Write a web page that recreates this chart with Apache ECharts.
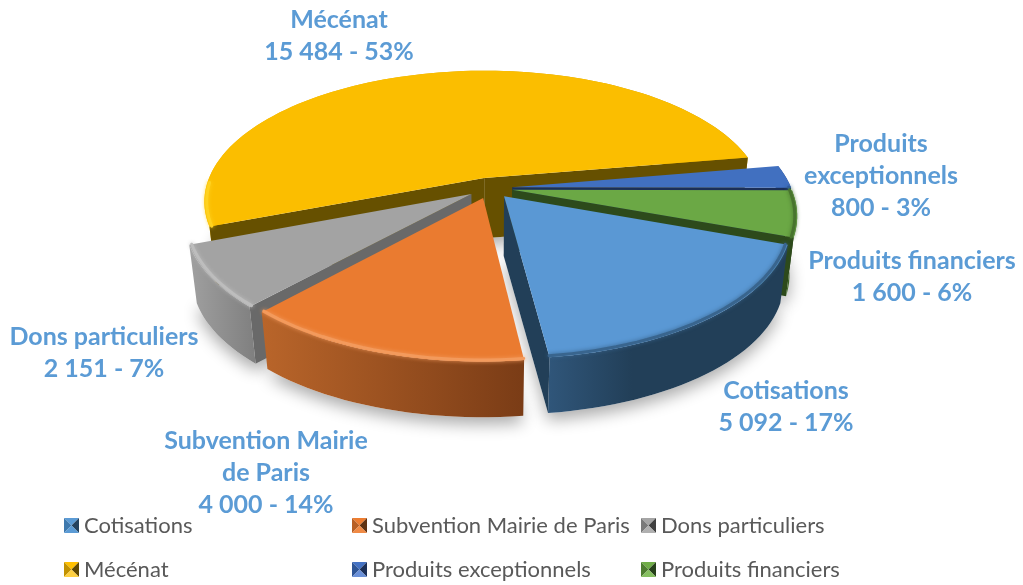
<!DOCTYPE html>
<html><head><meta charset="utf-8">
<style>html,body{margin:0;padding:0;background:#fff}#c{width:1023px;height:585px}</style>
<script src="https://cdn.jsdelivr.net/npm/echarts@6/dist/echarts.min.js"></script>
</head><body><div id="c"></div>
<script>
const categories = ['Cotisations','Subvention Mairie de Paris','Dons particuliers','Mécénat','Produits exceptionnels','Produits financiers'];
const values = [5092,4000,2151,15484,800,1600];
const percents = [17,14,7,53,3,6];
const labelNameLines = [['Cotisations'],['Subvention Mairie','de Paris'],['Dons particuliers'],['Mécénat'],['Produits','exceptionnels'],['Produits financiers']];

/* styling and layout of the fake-3D pie */
const topColors  = ['#5A98D4','#EA7B30','#A3A3A3','#FBBE00','#4170C0','#6BA845'];
const wallColors = ['#223F58','#AE5D26','#696969','#665000','#1B2F58','#2D4A1B'];
const outerFrom  = ['#30567A','#B9652A','#A0A0A0','#F5B800','#2F5496','#5B8F3B'];
const outerTo    = ['#223F58','#7A3C16','#7F7F7F','#C99A00','#1F3864','#2D4A1B'];
const outerStop  = [0.35,1,1,1,1,0.5];
const rimColors  = ['#39658E','#F39A5C','#BDBDBD','#FFD21F','#2F5AA6','#48742E'];
const swatch = [['#5B9BD5','#3E79AE','#25435F','#5B9BD5'],['#ED7D31','#B85F24','#5F3212','#F08A45'],
                ['#A5A5A5','#7A7A7A','#3F3F3F','#B0B0B0'],['#FFC000','#C29200','#5F4800','#FFD040'],
                ['#4472C4','#2E5596','#1B2F58','#6A90D8'],['#70AD47','#4E7D30','#26401A','#86C060']];
const paintRank = [5,4,3,0,1,2];
const labelCenters = [[786,407],[266,473],[104,353],[339,36],[881,176],[912,277]];

const cx=490, cy=188, R=279, RY=130, q=0.18, explode=0.08, H=60, K=0.975, startDeg=20;
const total = values.reduce((a,b)=>a+b,0);
const spans=[]; { let a=startDeg; values.forEach(v=>{const d=v/total*360; spans.push([a,a+d]); a+=d;}); }

function proj(X,Y,low){
  const s=1/(1-q*Y);
  let x=cx+R*X*s, y=cy+RY*Y*s;
  if(low){ x=cx+(x-cx)*K; y=cy+(y-cy)*K+H; }
  return [x,y];
}
function pt(i,deg,r,low){
  const m=(spans[i][0]+spans[i][1])/2*Math.PI/180, a=deg*Math.PI/180;
  return proj(explode*Math.cos(m)+r*Math.cos(a), explode*Math.sin(m)+r*Math.sin(a), low);
}
function arcBetween(i,a,b,r,low){
  const n=Math.max(4,Math.ceil((b-a)/2)), out=[];
  for(let k=0;k<=n;k++) out.push(pt(i,a+(b-a)*k/n,r,low));
  return out;
}
function arc(i,r,low){ return arcBetween(i,spans[i][0],spans[i][1],r,low); }
function sectorShape(i,low){ return [pt(i,0,0,low)].concat(arc(i,1,low)); }
function fmt(v){ return String(v).replace(/\B(?=(\d{3})+$)/g,' '); }
function poly(points,style,z2){ return {type:'polygon',z2:z2,silent:true,shape:{points},style}; }
const cosd=d=>Math.cos(d*Math.PI/180);

function renderSlice(i){
  return function(){
    const [a,b]=spans[i];
    const kids=[];
    // outer curved wall first, then only the radial walls that face the viewer
    kids.push(poly(arc(i,1,false).concat(arc(i,1,true).reverse()),{
      fill:new echarts.graphic.LinearGradient(0,0,1,0,[{offset:0,color:outerFrom[i]},{offset:outerStop[i],color:outerTo[i]},{offset:1,color:outerTo[i]}])},1));
    const wall=d=>poly([pt(i,0,0,false),pt(i,d,1,false),pt(i,d,1,true),pt(i,0,0,true)],{fill:wallColors[i]},2);
    if(cosd(a)<0) kids.push(wall(a));
    if(cosd(b)>0) kids.push(wall(b));
    kids.push(poly(sectorShape(i,false),{fill:topColors[i]},3));
    // bevel highlight only on the front half of the rim
    const ra=Math.max(a,0), rb=Math.min(b,178);
    const rim=[];
    if(rb>ra) rim.push([ra,rb]);
    if(b>360) rim.push([360,b]);
    rim.forEach(([p,q2])=>kids.push({type:'polyline',z2:4,silent:true,shape:{points:arcBetween(i,p,q2,0.992,false)},
      style:{fill:null,stroke:rimColors[i],lineWidth:3,shadowBlur:4,shadowColor:rimColors[i],lineCap:'round'}}));
    const lines=labelNameLines[i].concat([fmt(values[i])+' - '+percents[i]+'%']);
    kids.push({type:'text',z2:10,silent:true,x:labelCenters[i][0],y:labelCenters[i][1],
      style:{text:lines.join('\n'),align:'center',verticalAlign:'middle',fill:'#5B9BD5',
             font:'bold 25px Lato, Carlito, sans-serif',lineHeight:32}});
    return {type:'group',children:kids};
  };
}
function renderShadow(p,api){
  const i=p.dataIndex;
  return poly(sectorShape(i,true),{fill:'#fff',shadowBlur:16,shadowOffsetX:0,shadowOffsetY:7,shadowColor:'rgba(0,0,0,0.33)'},1);
}
function icon(i){
  const c=swatch[i];
  const svg=`<svg xmlns="http://www.w3.org/2000/svg" width="15" height="15" viewBox="0 0 15 15">`+
    `<path d="M0 0H15L7.5 7.5Z" fill="${c[0]}"/><path d="M0 0V15L7.5 7.5Z" fill="${c[1]}"/>`+
    `<path d="M15 0V15L7.5 7.5Z" fill="${c[2]}"/><path d="M0 15H15L7.5 7.5Z" fill="${c[3]}"/></svg>`;
  return 'image://data:image/svg+xml;charset=utf-8,'+encodeURIComponent(svg);
}
function legendCol(left,ids){
  return {orient:'vertical',left,top:512,itemWidth:15,itemHeight:15,itemGap:17,selectedMode:false,padding:0,
    data:ids.map(i=>({name:categories[i],icon:icon(i)})),
    textStyle:{color:'#595959',fontFamily:'Lato, Carlito, sans-serif',fontSize:22,lineHeight:27}};
}
const chart=echarts.init(document.getElementById('c'),null,{renderer:'canvas'});
chart.setOption({
  animation:false,backgroundColor:'#fff',
  legend:[legendCol(64,[0,3]),legendCol(352,[1,4]),legendCol(641,[2,5])],
  series:[{type:'custom',name:'ombre',coordinateSystem:'none',z:1,silent:true,renderItem:renderShadow,data:values}]
   .concat(categories.map((name,i)=>({type:'custom',name,coordinateSystem:'none',z:2+paintRank[i],silent:true,
     itemStyle:{color:topColors[i]},renderItem:renderSlice(i),data:[values[i]]})))
});
</script></body></html>
